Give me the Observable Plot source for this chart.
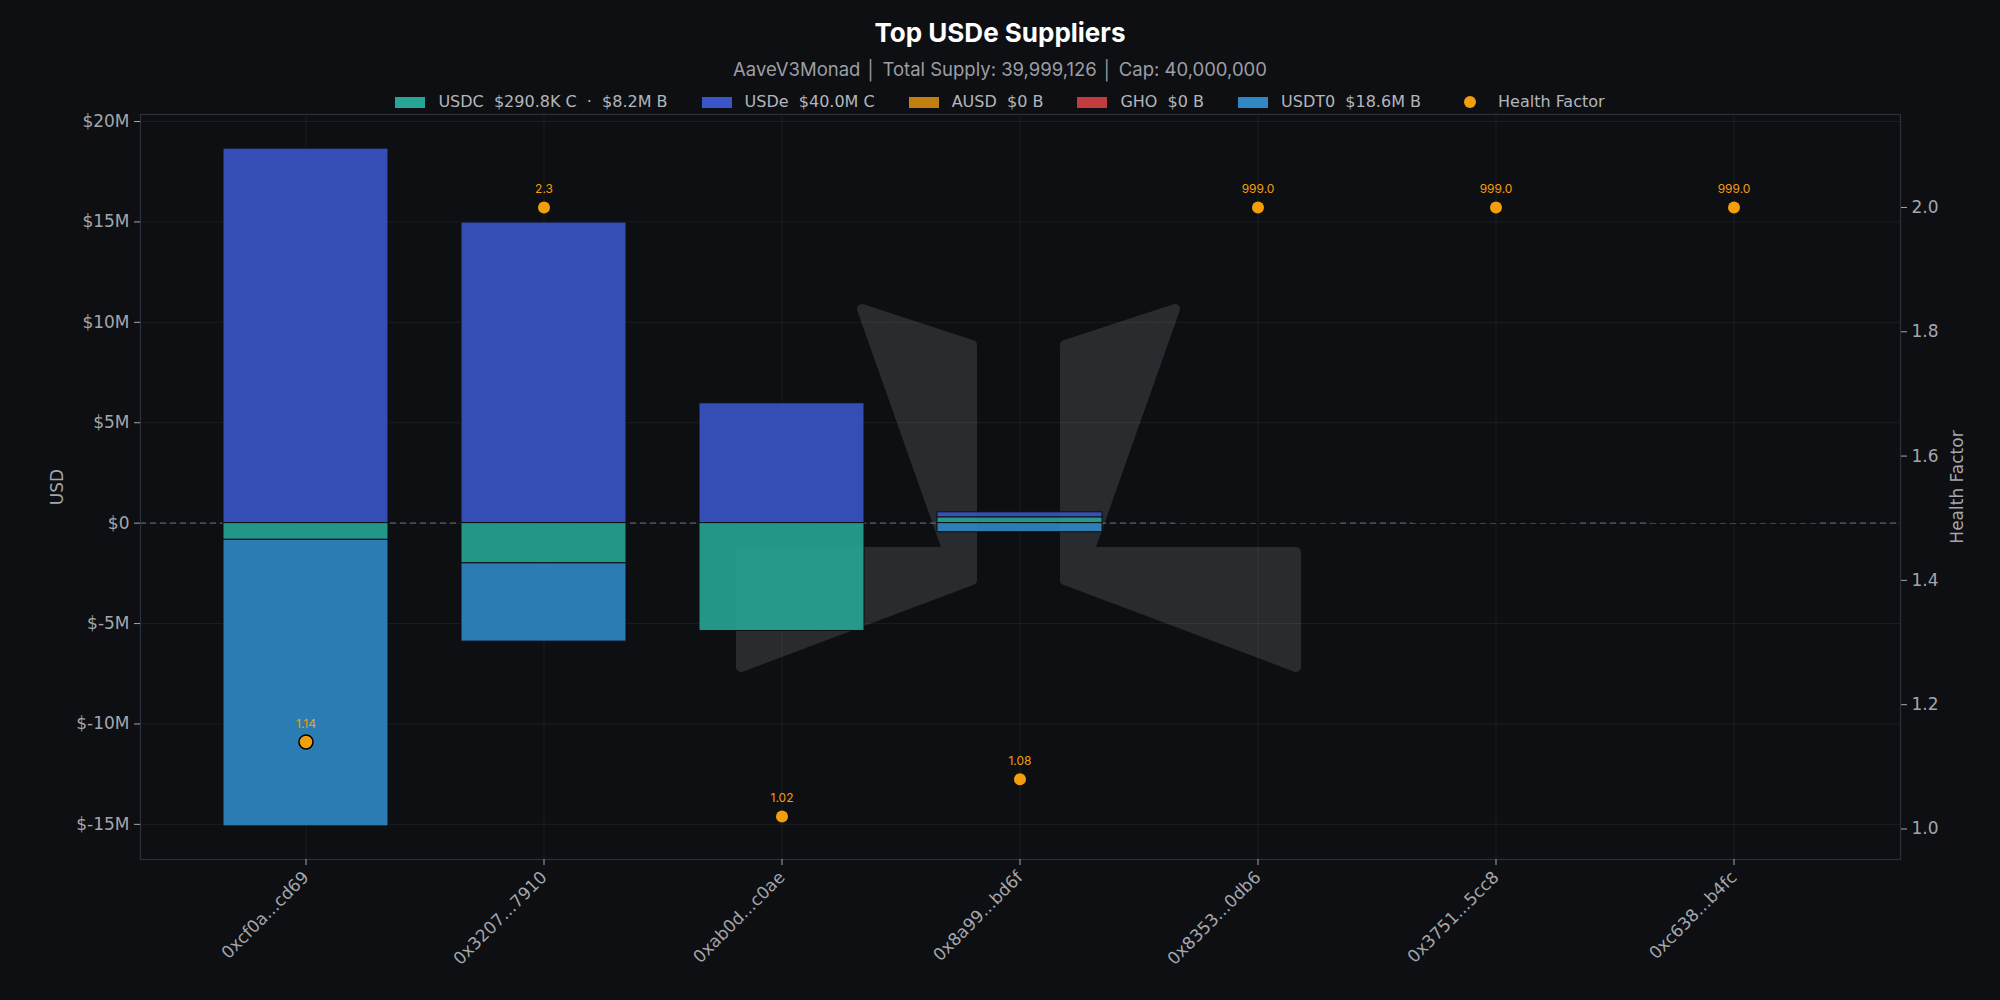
<!DOCTYPE html>
<html>
<head>
<meta charset="utf-8">
<script src="https://cdn.jsdelivr.net/npm/d3@7"></script>
<script src="https://cdn.jsdelivr.net/npm/@observablehq/plot@0.6"></script>
<style>
html, body { margin: 0; padding: 0; background: #0d0f13; }
#wrap { position: relative; width: 2000px; height: 1000px; overflow: hidden; background: #0d0f13; }
#wm { position: absolute; left: 0; top: 0; z-index: 0; }
#header { position: relative; z-index: 1; width: 2000px; height: 108px; }
#title { position: absolute; top: 17px; left: 0; width: 2000px; text-align: center; font: 700 26px Inter, sans-serif; line-height: 32px; color: #ffffff; }
#subtitle { position: absolute; top: 58px; left: 0; width: 2000px; text-align: center; font: 400 18.5px Inter, sans-serif; line-height: 22px; color: #9c9ea4; }
#legend { position: absolute; top: 92px; left: 0; width: 2000px; display: flex; justify-content: center; gap: 34px; font: 400 16px "DejaVu Sans", sans-serif; line-height: 20px; color: #b4b6bb; white-space: pre; }
.item { display: flex; align-items: center; gap: 13px; }
.sw { width: 30px; height: 11px; display: inline-block; }
.dotbox { width: 30px; height: 14px; display: inline-flex; justify-content: center; align-items: center; }
.dot { width: 12px; height: 12px; border-radius: 50%; background: #f59e0b; }
#chart { position: relative; z-index: 1; }
</style>
</head>
<body>
<div id="wrap">
  <svg id="wm" width="2000" height="1000" aria-hidden="true">
    <g fill="#2a2b2f" stroke="#2a2b2f" stroke-width="10" stroke-linejoin="round">
      <polygon points="862,309 972,345 972,580 741,667 741,552 948,552"></polygon>
      <polygon points="1175,309 1065,345 1065,580 1296,667 1296,552 1089,552"></polygon>
    </g>
  </svg>
  <div id="header">
    <div id="title">Top USDe Suppliers</div>
    <div id="subtitle">AaveV3Monad │ Total Supply: 39,999,126 │ Cap: 40,000,000</div>
    <div id="legend"></div>
  </div>
  <div id="chart"></div>
</div>
<script>
// ---- data (USD values in millions) ----
const addresses = ["0xcf0a...cd69", "0x3207...7910", "0xab0d...c0ae", "0x8a99...bd6f", "0x8353...0db6", "0x3751...5cc8", "0xc638...b4fc"];
const usdcSupply  = [0, 0, 0, 0.29, 0, 0, 0];
const usdeSupply  = [18.65, 14.97, 5.97, 0.25, 0.05, 0.01, 0.01];
const usdcBorrow  = [0.83, 2.0, 5.37, 0, 0, 0, 0];
const ausdBorrow  = [0, 0, 0, 0, 0, 0, 0];
const ghoBorrow   = [0, 0, 0, 0, 0, 0, 0];
const usdt0Borrow = [14.27, 3.9, 0, 0.45, 0, 0, 0];
const healthFactor = [1.14, 2.3, 1.02, 1.08, 999.0, 999.0, 999.0];

const assetNames  = ["USDC", "USDe", "AUSD", "GHO", "USDT0"];
const assetColors = ["#27a596", "#3a55c8", "#c17f10", "#c23c3e", "#2f88c4"];
const legendLabels = ["USDC  $290.8K C  ·  $8.2M B", "USDe  $40.0M C", "AUSD  $0 B", "GHO  $0 B", "USDT0  $18.6M B"];

const usdTicks = [-15, -10, -5, 0, 5, 10, 15, 20];
const hfTicks = [1.0, 1.2, 1.4, 1.6, 1.8, 2.0];
const hfCap = 2.0;
const yDomain = [-16.75, 20.35];

// health factor <-> USD (millions) on the shared vertical scale
const hfAt1 = -15.23, hfPerUnit = 30.95;
const toUsd = h => hfAt1 + (h - 1) * hfPerUnit;
const fromUsd = u => 1 + (u - hfAt1) / hfPerUnit;

// ---- legend ----
const legend = document.getElementById("legend");
assetNames.forEach((n, i) => {
  const it = document.createElement("span"); it.className = "item";
  const sw = document.createElement("span"); sw.className = "sw"; sw.style.background = assetColors[i];
  const tx = document.createElement("span"); tx.textContent = legendLabels[i];
  it.append(sw, tx); legend.append(it);
});
{
  const it = document.createElement("span"); it.className = "item";
  const box = document.createElement("span"); box.className = "dotbox";
  const d = document.createElement("span"); d.className = "dot"; box.append(d);
  const tx = document.createElement("span"); tx.textContent = "Health Factor";
  it.append(box, tx); legend.append(it);
}

// ---- rows ----
const rows = [];
addresses.forEach((a, i) => {
  const push = (asset, kind, v) => { if (v !== 0) rows.push({addr: a, asset, kind, v}); };
  push("USDC", "C", usdcSupply[i]);
  push("USDe", "C", usdeSupply[i]);
  push("USDC", "B", -usdcBorrow[i]);
  push("AUSD", "B", -ausdBorrow[i]);
  push("GHO", "B", -ghoBorrow[i]);
  push("USDT0", "B", -usdt0Borrow[i]);
});
const hfRows = addresses.map((a, i) => ({
  addr: a, hf: healthFactor[i], i,
  label: healthFactor[i] >= 999 ? healthFactor[i].toFixed(1) : String(healthFactor[i])
}));
const hfY = d => toUsd(Math.min(d.hf, hfCap));

const chart = Plot.plot({
  width: 2000,
  height: 892,
  marginTop: 6,
  marginBottom: 141,
  marginLeft: 140,
  marginRight: 100,
  style: {background: "transparent", color: "#a4a6ab", fontFamily: "DejaVu Sans, sans-serif", fontSize: "17px"},
  x: {type: "band", domain: addresses, paddingInner: 0.305, paddingOuter: 0.335},
  y: {domain: yDomain},
  color: {domain: assetNames, range: assetColors},
  marks: [
    Plot.gridY(usdTicks, {stroke: "#ffffff", strokeOpacity: 0.06}),
    Plot.gridX({stroke: "#ffffff", strokeOpacity: 0.06}),
    Plot.ruleY([0], {stroke: "#5c606a", strokeWidth: 1.3, strokeDasharray: "6,4"}),
    Plot.barY(rows, Plot.stackY({x: "addr", y: "v", fill: "asset", fillOpacity: 0.9, stroke: "#0d0f13", strokeWidth: 1})),
    Plot.dot(hfRows.filter(d => d.i !== 0), {x: "addr", y: hfY, r: 6, fill: "#f59e0b"}),
    Plot.dot(hfRows.filter(d => d.i === 0), {x: "addr", y: hfY, r: 7, fill: "#f59e0b", stroke: "#000000", strokeWidth: 1.5}),
    Plot.text(hfRows, {x: "addr", y: hfY, text: "label", dy: -18, fill: "#f59e0b", fontSize: 12, fontFamily: "Inter, sans-serif"}),
    Plot.frame({stroke: "#2e313b", strokeWidth: 1.2}),
    Plot.axisY({ticks: usdTicks, tickFormat: d => d === 0 ? "$0" : `$${d}M`, label: "USD", labelAnchor: "center", labelArrow: "none", labelOffset: 90, tickSize: 6, tickPadding: 5, fontSize: 17}),
    Plot.axisY({anchor: "right", ticks: hfTicks.map(toUsd), tickFormat: d => fromUsd(d).toFixed(1), label: "Health Factor", labelAnchor: "center", labelArrow: "none", labelOffset: 62, tickSize: 6, tickPadding: 5, fontSize: 17}),
    Plot.axisX({tickRotate: -45, label: null, tickSize: 6, tickPadding: 9, fontSize: 17})
  ]
});
document.getElementById("chart").append(chart);
</script>
</body>
</html>
